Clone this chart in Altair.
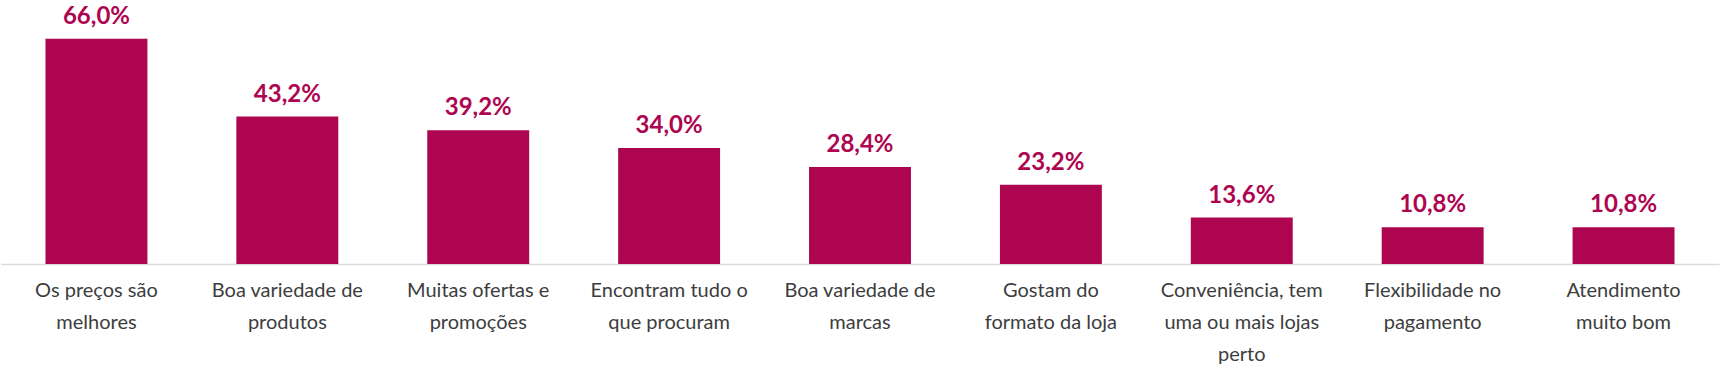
import altair as alt
import pandas as pd

categories = [
    "Os preços são|melhores",
    "Boa variedade de|produtos",
    "Muitas ofertas e|promoções",
    "Encontram tudo o|que procuram",
    "Boa variedade de|marcas",
    "Gostam do|formato da loja",
    "Conveniência, tem|uma ou mais lojas|perto",
    "Flexibilidade no|pagamento",
    "Atendimento|muito bom",
]
values = [66.0, 43.2, 39.2, 34.0, 28.4, 23.2, 13.6, 10.8, 10.8]
value_labels = ["66,0%", "43,2%", "39,2%", "34,0%", "28,4%", "23,2%", "13,6%", "10,8%", "10,8%"]

df = pd.DataFrame({"cat": categories, "val": values, "lab": value_labels})

COLOR = "#AE0550"
FONT = "Lato"

x = alt.X("cat:N", sort=categories, title=None,
          scale=alt.Scale(paddingInner=0.466, paddingOuter=0.233),
          axis=alt.Axis(labelExpr="split(datum.label, '|')", labelAngle=0,
                        labelFontSize=20, labelColor="#3d3d3d", labelFont=FONT,
                        labelPadding=16, labelLineHeight=32, labelBaseline="top",
                        ticks=False, domainColor="#dcdcdc", domainWidth=1.5,
                        labelLimit=0))
y = alt.Y("val:Q", scale=alt.Scale(domain=[0, 76.2], nice=False, zero=True), axis=None)

bars = alt.Chart(df).mark_bar(color=COLOR).encode(x=x, y=y)
text = alt.Chart(df).mark_text(color=COLOR, font=FONT, fontSize=24, fontWeight="bold",
                               dy=-22, baseline="middle").encode(x=x, y=y, text="lab:N")

chart = (bars + text).properties(
    width=1718, height=260,
    background="white",
    autosize=alt.AutoSizeParams(type="none"),
    padding={"left": 1, "top": 4, "right": 3, "bottom": 104},
).configure_view(stroke=None, strokeWidth=0)

chart.save("out.html", embed_options={"renderer": "svg", "actions": False})
